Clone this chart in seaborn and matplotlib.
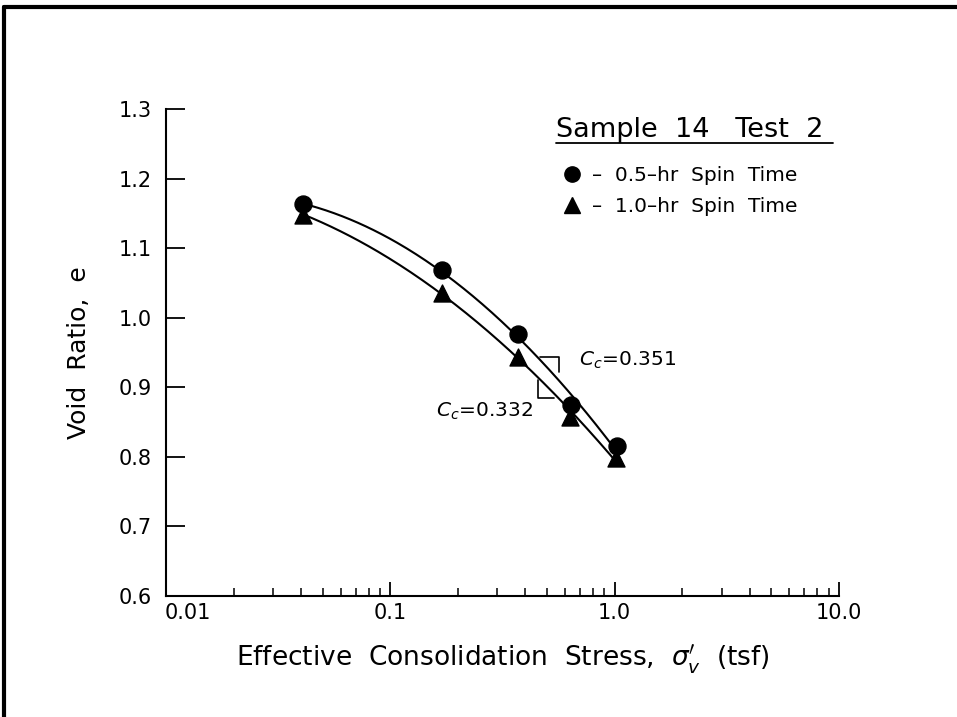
import numpy as np
import pandas as pd
import matplotlib
matplotlib.use("Agg")
import matplotlib.pyplot as plt
import matplotlib.transforms as mtrans
import seaborn as sns
from matplotlib.lines import Line2D
from matplotlib.ticker import FixedLocator, FixedFormatter, LogLocator, NullFormatter

# ---- data ----
stress_05 = [0.0406, 0.170, 0.372, 0.640, 1.02]
e_05 = [1.163, 1.069, 0.976, 0.875, 0.816]
stress_10 = [0.0406, 0.170, 0.372, 0.630, 1.01]
e_10 = [1.148, 1.036, 0.944, 0.858, 0.799]

y_ticks = [0.6, 0.7, 0.8, 0.9, 1.0, 1.1, 1.2, 1.3]
y_ticklabels = ["0.6", "0.7", "0.8", "0.9", "1.0", "1.1", "1.2", "1.3"]
x_ticks = [0.01, 0.1, 1.0, 10.0]
x_ticklabels = ["0.01", "0.1", "1.0", "10.0"]

# slope-bracket annotations (Cc)
cc_upper_x = [0.464, 0.562, 0.562]
cc_upper_y = [0.943, 0.943, 0.922]
cc_lower_x = [0.453, 0.453, 0.537]
cc_lower_y = [0.910, 0.884, 0.884]
cc_labels = [r"$C_c$=0.351", r"$C_c$=0.332"]
cc_label_x = [0.69, 0.16]
cc_label_y = [0.939, 0.865]

sns.set_theme(style="white")
plt.rcParams["font.family"] = ["DejaVu Sans"]
plt.rcParams["mathtext.fontset"] = "dejavusans"

fig = plt.figure(figsize=(9.57, 7.17), dpi=100)
ax = fig.add_axes([166/957, 1-596/717, (839-166)/957, (596-109)/717])


def smooth(xs, ys):
    lx = np.log10(xs)
    c = np.polyfit(lx, ys, 2)
    g = np.linspace(lx.min(), lx.max(), 200)
    return pd.DataFrame({"x": 10**g, "y": np.polyval(c, g)})


for xs, ys in [(stress_05, e_05), (stress_10, e_10)]:
    d = smooth(np.array(xs), np.array(ys))
    sns.lineplot(data=d, x="x", y="y", ax=ax, color="black", lw=1.5,
                 sort=False, estimator=None)

df05 = pd.DataFrame({"x": stress_05, "y": e_05})
df10 = pd.DataFrame({"x": stress_10, "y": e_10})
sns.scatterplot(data=df05, x="x", y="y", ax=ax, marker="o", s=150,
                color="black", edgecolor="black", zorder=5)
sns.scatterplot(data=df10, x="x", y="y", ax=ax, marker="^", s=150,
                color="black", edgecolor="black", zorder=5)

ax.plot(cc_upper_x, cc_upper_y, color="black", lw=1.2)
ax.plot(cc_lower_x, cc_lower_y, color="black", lw=1.2)
for t, x, y in zip(cc_labels, cc_label_x, cc_label_y):
    ax.text(x, y, t, fontsize=14.5, va="center", ha="left", color="black")

ax.set_xscale("log")
ax.set_xlim(0.01, 10)
ax.set_ylim(0.6, 1.3)
ax.xaxis.set_major_locator(FixedLocator(x_ticks))
ax.xaxis.set_major_formatter(FixedFormatter(x_ticklabels))
ax.xaxis.set_minor_locator(LogLocator(base=10, subs=np.arange(2, 10)))
ax.xaxis.set_minor_formatter(NullFormatter())
ax.yaxis.set_major_locator(FixedLocator(y_ticks))
ax.yaxis.set_major_formatter(FixedFormatter(y_ticklabels))

for s in ["top", "right"]:
    ax.spines[s].set_visible(False)
for s in ["left", "bottom"]:
    ax.spines[s].set_linewidth(1.5)
    ax.spines[s].set_color("black")

ax.tick_params(axis="y", which="major", direction="in", length=14, width=1.3,
               pad=10, labelsize=15, left=True, colors="black")
ax.tick_params(axis="x", which="major", direction="in", length=10, width=1.3,
               pad=5, labelsize=15, bottom=True, colors="black")
ax.tick_params(axis="x", which="minor", direction="in", length=6, width=1.1,
               bottom=True, colors="black")

# first x label sits to the right of the axis corner
fig.canvas.draw()
first = ax.get_xticklabels()[0]
first.set_transform(first.get_transform() +
                    mtrans.ScaledTranslation(22/100, 0, fig.dpi_scale_trans))

ax.set_xlabel(r"Effective  Consolidation  Stress,  $\sigma_v'$  (tsf)",
              fontsize=19, labelpad=14, color="black")
ax.set_ylabel("Void  Ratio,  e", fontsize=18, labelpad=20, color="black")

# legend block
fig.text(556/957, 1-137/717, "Sample  14   Test  2", fontsize=19.5,
         va="baseline", ha="left", color="black")
fig.add_artist(Line2D([556/957, 833/957], [1-142.5/717, 1-142.5/717],
                      color="black", lw=1.3, transform=fig.transFigure))
handles = [Line2D([], [], marker="o", ls="", color="black", ms=11),
           Line2D([], [], marker="^", ls="", color="black", ms=11)]
leg = fig.legend(handles, ["–  0.5–hr  Spin  Time", "–  1.0–hr  Spin  Time"],
                 loc="upper left", bbox_to_anchor=(562/957, 1-166/717),
                 frameon=False, fontsize=14.5, handlelength=1.0,
                 handletextpad=0.5, labelspacing=0.6, borderaxespad=0,
                 borderpad=0)
for t in leg.get_texts():
    t.set_color("black")

# outer frame (left and top)
fig.add_artist(Line2D([4/957, 4/957], [0, 1-7/717], color="black", lw=3,
                      transform=fig.transFigure))
fig.add_artist(Line2D([4/957, 1], [1-7/717, 1-7/717], color="black", lw=3,
                      transform=fig.transFigure))

fig.savefig("out.png", dpi=100)
